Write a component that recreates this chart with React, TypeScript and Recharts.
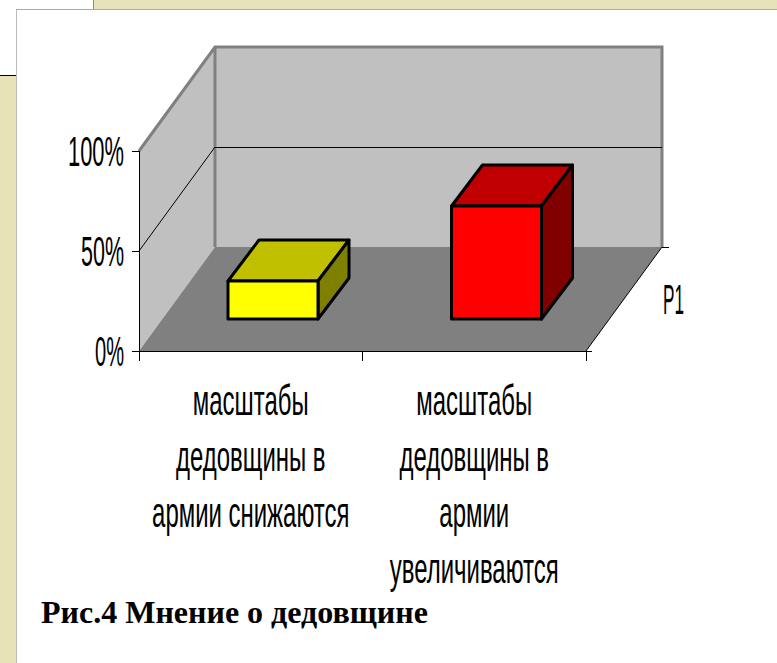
import React from 'react';
import { BarChart, Bar, XAxis, YAxis, Customized, usePlotArea } from 'recharts';

const categories = ['масштабы дедовщины в армии снижаются', 'масштабы дедовщины в армии увеличиваются'];
const values = [19, 56.5];
const categoryLines = [
  ['масштабы', 'дедовщины в', 'армии снижаются'],
  ['масштабы', 'дедовщины в', 'армии', 'увеличиваются'],
];
const percentTicks = [0, 50, 100];
const seriesName = 'P1';

const barColors = [
  { front: '#ffff00', top: '#c0c000', side: '#808000' },
  { front: '#ff0000', top: '#c00000', side: '#800000' },
];

const data = categories.map((name, i) => ({ name, value: values[i] }));

const FONT = '"Liberation Sans", Arial, sans-serif';
// depth of the 3D box the chart sits in
const DEPTH_X = 76;
const DEPTH_Y = 104;

const Walls = () => {
  const plot = usePlotArea();
  if (!plot) return null;
  const { x, y, width, height } = plot;
  const right = x + width;
  const bottom = y + height;
  const backX = x + DEPTH_X;
  const backRight = right + DEPTH_X;
  const grey = '#808080';
  return (
    <g>
      <polygon points={`${x},${y} ${backX},${y - DEPTH_Y} ${backX},${bottom - DEPTH_Y} ${x},${bottom}`} fill="#c0c0c0" />
      <rect x={backX} y={y - DEPTH_Y} width={width} height={height} fill="#c0c0c0" />
      <polygon points={`${x},${bottom} ${right},${bottom} ${backRight},${bottom - DEPTH_Y} ${backX},${bottom - DEPTH_Y}`} fill={grey} />
      <polyline points={`${x},${y} ${backX},${y - DEPTH_Y} ${backRight},${y - DEPTH_Y} ${backRight},${bottom - DEPTH_Y}`} fill="none" stroke={grey} strokeWidth={3} />
      <line x1={backX} y1={y - DEPTH_Y} x2={backX} y2={bottom - DEPTH_Y} stroke={grey} strokeWidth={3} />
      {percentTicks.filter((t) => t > 0 && t < 100).map((t) => {
        const ty = bottom - (t / 100) * height;
        return (
          <g key={t} stroke="#000" strokeWidth={1}>
            <line x1={x} y1={ty} x2={backX} y2={ty - DEPTH_Y} />
            <line x1={backX} y1={ty - DEPTH_Y} x2={backRight} y2={ty - DEPTH_Y} shapeRendering="crispEdges" />
          </g>
        );
      })}
      <line x1={right} y1={bottom} x2={backRight} y2={bottom - DEPTH_Y} stroke="#000" strokeWidth={1} />
      <line x1={backRight} y1={bottom - DEPTH_Y} x2={backRight + 7} y2={bottom - DEPTH_Y} stroke="#000" strokeWidth={1} shapeRendering="crispEdges" />
      <line x1={right} y1={bottom} x2={right + 6} y2={bottom} stroke="#000" strokeWidth={1} shapeRendering="crispEdges" />
      {[0, 1, 2].map((i) => {
        const tx = x + (i * width) / 2;
        return <line key={i} x1={tx} y1={bottom} x2={tx} y2={bottom + 10} stroke="#000" strokeWidth={1} shapeRendering="crispEdges" />;
      })}
      <text x={663} y={314} fontFamily={FONT} fontSize={42} textLength={21} lengthAdjust="spacingAndGlyphs" fill="#000">
        {seriesName}
      </text>
    </g>
  );
};

const Box = (props: any) => {
  const { x, y, width, height, index } = props;
  const c = barColors[index];
  const fx = x + 22;
  const fy = y - 32;
  const dx = 31;
  const dy = 41;
  const r = fx + width;
  const b = fy + height;
  return (
    <g stroke="#000" strokeWidth={3} strokeLinejoin="round">
      <polygon points={`${fx},${fy} ${fx + dx},${fy - dy} ${r + dx},${fy - dy} ${r},${fy}`} fill={c.top} />
      <polygon points={`${r},${fy} ${r + dx},${fy - dy} ${r + dx},${b - dy} ${r},${b}`} fill={c.side} />
      <rect x={fx} y={fy} width={width} height={height} fill={c.front} />
    </g>
  );
};

const PercentTick = (props: any) => {
  const { x, y, payload } = props;
  const label = `${payload.value}%`;
  const w = label.length === 4 ? 56 : label.length === 3 ? 43 : 29;
  return (
    <text x={x} y={y + 15} textAnchor="end" fontFamily={FONT} fontSize={42} textLength={w} lengthAdjust="spacingAndGlyphs" fill="#000">
      {label}
    </text>
  );
};

const CategoryTick = (props: any) => {
  const { x, payload } = props;
  const lines = categoryLines[payload.index];
  return (
    <g>
      {lines.map((line, i) => (
        <text
          key={i}
          transform={`translate(${x},${415 + i * 56}) scale(0.57,1)`}
          textAnchor="middle"
          fontFamily={FONT}
          fontSize={42}
          fill="#000"
        >
          {line}
        </text>
      ))}
    </g>
  );
};

export default function App() {
  return (
    <div style={{ position: 'absolute', left: 0, top: 0, width: 777, height: 663, background: '#fff', overflow: 'hidden' }}>
      <div style={{ position: 'absolute', left: 93, top: 0, width: 684, height: 9, background: '#e8e2b8', borderLeft: '1px solid #888' }} />
      <div style={{ position: 'absolute', left: 0, top: 75, width: 16, height: 588, background: '#e8e2b8', borderTop: '1px solid #000' }} />
      <div style={{ position: 'absolute', left: 16, top: 9, width: 761, height: 654, background: '#fff', borderTop: '1px solid #aaa', borderLeft: '1px solid #bbb', boxSizing: 'border-box' }} />
      <div style={{ position: 'absolute', left: 0, top: 0 }}>
        <BarChart
          width={777}
          height={663}
          data={data}
          margin={{ top: 151, right: 191, bottom: 62, left: 69 }}
        >
          <Customized component={<Walls />} />
          <XAxis dataKey="name" height={250} interval={0} axisLine={{ stroke: '#000', shapeRendering: 'crispEdges' }} tickLine={false} tick={<CategoryTick />} />
          <YAxis
            width={70}
            domain={[0, 100]}
            ticks={percentTicks}
            axisLine={{ stroke: '#000', shapeRendering: 'crispEdges' }}
            tickLine={{ stroke: '#000', shapeRendering: 'crispEdges' }}
            tickSize={7}
            tickMargin={8}
            tick={<PercentTick />}
          />
          <Bar dataKey="value" barSize={90} isAnimationActive={false} shape={<Box />} />
        </BarChart>
      </div>
      <div style={{ position: 'absolute', left: 41, top: 594, fontFamily: '"Liberation Serif", "Times New Roman", serif', fontWeight: 'bold', fontSize: 32, lineHeight: '36px', color: '#000', whiteSpace: 'nowrap' }}>
        Рис.4 Мнение о дедовщине
      </div>
    </div>
  );
}
